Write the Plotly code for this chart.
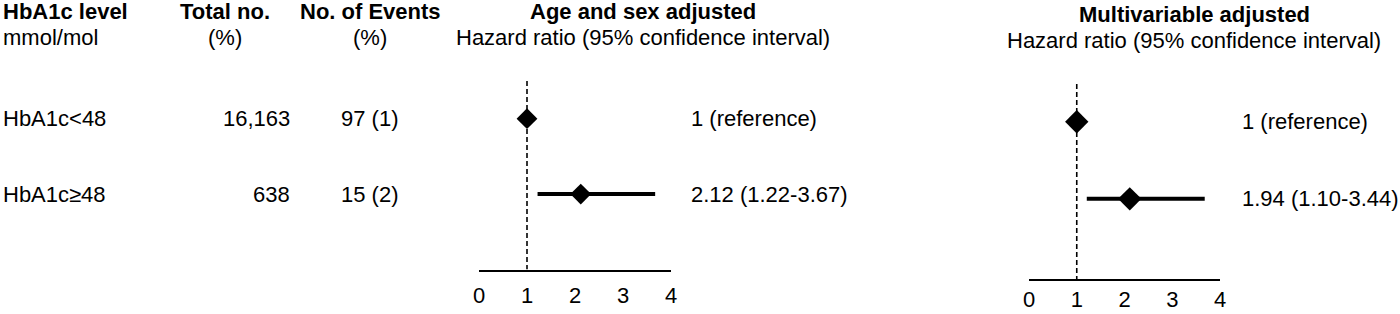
import plotly.graph_objects as go

# ---- data ----
categories = ["HbA1c<48", "HbA1c\u226548"]
total_no = ["16,163", "638"]
events = ["97 (1)", "15 (2)"]

# Age and sex adjusted
age_hr = [1.0, 2.12]
age_lo = [None, 1.22]
age_hi = [None, 3.67]
age_labels = ["1 (reference)", "2.12 (1.22-3.67)"]

# Multivariable adjusted (mark positions as drawn in the picture)
mv_hr = [1.0, 2.11]
mv_lo = [None, 1.21]
mv_hi = [None, 3.68]
mv_labels = ["1 (reference)", "1.94 (1.10-3.44)"]

x_ticks = [0, 1, 2, 3, 4]
rows = [0, 1]

W, H = 1400, 314
FONT = "Liberation Sans, Arial, sans-serif"
FS = 22

def py(pix):
    return 1 - pix / H

def px(pix):
    return pix / W

fig = go.Figure()

panels = [
    dict(xa="x", ya="y", hr=age_hr, lo=age_lo, hi=age_hi, labels=age_labels, msize=16),
    dict(xa="x2", ya="y2", hr=mv_hr, lo=mv_lo, hi=mv_hi, labels=mv_labels, msize=18),
]

for p in panels:
    # CI lines
    for r, lo, hi in zip(rows, p["lo"], p["hi"]):
        if lo is None:
            continue
        fig.add_trace(go.Scatter(x=[lo, hi], y=[r, r], mode="lines",
                                 line=dict(color="black", width=4),
                                 xaxis=p["xa"], yaxis=p["ya"], showlegend=False,
                                 hoverinfo="skip"))
    fig.add_trace(go.Scatter(x=p["hr"], y=rows, mode="markers",
                             marker=dict(symbol="diamond", size=p["msize"], color="black",
                                         line=dict(width=0)),
                             xaxis=p["xa"], yaxis=p["ya"], showlegend=False))

def xaxis_style(ticklen, size):
    return dict(range=[0, 4], tickvals=x_ticks, showgrid=False, zeroline=False,
                showline=True, linecolor="black", linewidth=2, automargin=False,
                ticks="outside", ticklen=ticklen, tickcolor="rgba(0,0,0,0)",
                tickfont=dict(family=FONT, size=size, color="black"), fixedrange=True)

fig.update_layout(
    width=W, height=H, margin=dict(l=0, r=0, t=0, b=0, autoexpand=False),
    paper_bgcolor="white", plot_bgcolor="white",
    font=dict(family=FONT, size=FS, color="black"),
    xaxis=dict(domain=[px(479), px(671)], anchor="y", **xaxis_style(5, FS)),
    yaxis=dict(domain=[py(269.5), py(81)], range=[2, -0.5], visible=False,
               automargin=False, fixedrange=True),
    xaxis2=dict(domain=[px(1029), px(1220)], anchor="y2", **xaxis_style(0, FS)),
    yaxis2=dict(domain=[py(279), py(84)], range=[2.04, -0.49], visible=False,
                automargin=False, fixedrange=True),
)

# reference dashed lines
fig.add_shape(type="line", xref="x", yref="y", x0=1, x1=1, y0=-0.5, y1=2,
              line=dict(color="black", width=1.6, dash="5px,3px"), layer="below")
fig.add_shape(type="line", xref="x2", yref="y2", x0=1, x1=1, y0=-0.49, y1=2.04,
              line=dict(color="black", width=1.6, dash="5px,3px"), layer="below")

def ann(text, x, y, xanchor="left", yref="paper", xref="paper"):
    fig.add_annotation(text=text, x=x, y=y, xref=xref, yref=yref, xanchor=xanchor,
                       yanchor="middle", showarrow=False,
                       font=dict(family=FONT, size=FS, color="black"))

# table headers
LEFT = px(1)
ann("<b>HbA1c level</b>", LEFT, py(12))
ann("mmol/mol", LEFT, py(38))
ann("<b>Total no.</b>", px(225), py(12), "center")
ann("(%)", px(225), py(38), "center")
ann("<b>No. of Events</b>", px(370), py(12), "center")
ann("(%)", px(370), py(38), "center")

# panel headers
ann("<b>Age and sex adjusted</b>", px(643), py(12), "center")
ann("Hazard ratio (95% confidence interval)", px(643), py(38), "center")
ann("<b>Multivariable adjusted</b>", px(1194), py(15), "center")
ann("Hazard ratio (95% confidence interval)", px(1194), py(41), "center")

# table rows
for r, c, t, e in zip(rows, categories, total_no, events):
    ann(c, LEFT, r, "left", yref="y")
    ann(t, px(292), r, "right", yref="y")
    ann(e, px(400), r, "right", yref="y")

for r, lab in zip(rows, age_labels):
    ann(lab, px(689), r, "left", yref="y")
for r, lab in zip(rows, mv_labels):
    ann(lab, px(1240), r, "left", yref="y2")

fig.write_html("out.html", config={"displayModeBar": False, "staticPlot": True},
               post_script="document.body.style.margin='0';document.body.style.overflow='hidden';")
